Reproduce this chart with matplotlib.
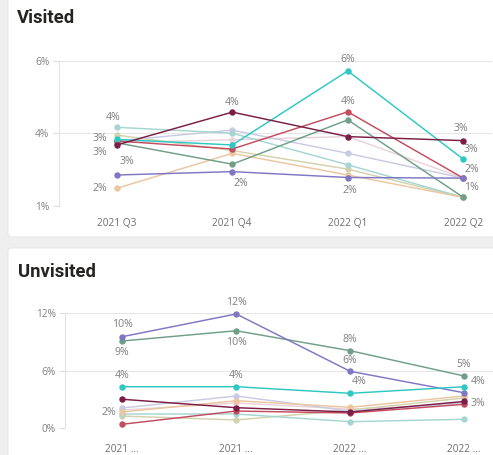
import matplotlib
matplotlib.use("Agg")
import matplotlib.pyplot as plt
from matplotlib.patches import FancyBboxPatch

plt.rcParams['font.family'] = ['Open Sans', 'DejaVu Sans']

# ---------------- data ----------------
quarters_top = ["2021 Q3", "2021 Q4", "2022 Q1", "2022 Q2"]
quarters_bottom = ["2021 ...", "2021 ...", "2022 ...", "2022 ..."]

series_names = ["light pink", "beige", "lavender", "light teal", "tan",
                "sage", "red", "purple", "cyan", "maroon"]
series_colors = ["#ead3da", "#d3d2ad", "#c9cbe2", "#a6d6d2", "#ecc6a0",
                 "#6f9f88", "#c24c60", "#7f76c4", "#2ec8c2", "#7b1d45"]

# Visited (%)
visited_light_pink = [3.20, 3.30, 3.40, 2.06]
visited_beige = [3.45, 2.95, 2.35, 1.44]
visited_lavender = [3.26, 3.61, 2.86, 2.06]
visited_light_teal = [3.70, 3.51, 2.49, 1.44]
visited_tan = [1.73, 2.86, 2.16, 1.44]
visited_sage = [3.20, 2.51, 3.94, 1.44]
visited_red = [3.26, 3.00, 4.20, 2.06]
visited_purple = [2.16, 2.27, 2.08, 2.06]
visited_cyan = [3.31, 3.13, 5.52, 2.67]
visited_maroon = [3.13, 4.19, 3.40, 3.27]

# Unvisited (%)
unvisited_light_pink = [1.90, 2.64, 2.00, 2.54]
unvisited_beige = [1.28, 0.87, 1.90, 3.16]
unvisited_lavender = [2.12, 3.37, 1.80, 2.67]
unvisited_light_teal = [1.49, 1.49, 0.69, 0.94]
unvisited_tan = [1.70, 2.88, 2.19, 3.37]
unvisited_sage = [9.11, 10.18, 8.10, 5.46]
unvisited_red = [0.42, 1.80, 1.60, 2.50]
unvisited_purple = [9.56, 11.93, 5.95, 3.71]
unvisited_cyan = [4.34, 4.34, 3.65, 4.34]
unvisited_maroon = [3.03, 2.15, 1.70, 2.80]

visited = [visited_light_pink, visited_beige, visited_lavender, visited_light_teal,
           visited_tan, visited_sage, visited_red, visited_purple, visited_cyan,
           visited_maroon]
unvisited = [unvisited_light_pink, unvisited_beige, unvisited_lavender,
             unvisited_light_teal, unvisited_tan, unvisited_sage, unvisited_red,
             unvisited_purple, unvisited_cyan, unvisited_maroon]

top_yticks = [1.17, 3.51, 5.85]
top_yticklabels = ["1%", "4%", "6%"]
bottom_yticks = [0, 6, 12]
bottom_yticklabels = ["0%", "6%", "12%"]

# data labels: (series name, quarter index, dx px, dy px)
top_labels = [("light teal", 0, -4, 10), ("beige", 0, -17, -3), ("sage", 0, -17, -10),
              ("maroon", 0, 10, -17), ("tan", 0, -17, 0),
              ("maroon", 1, 0, 10), ("purple", 1, 9, -12),
              ("cyan", 2, 0, 11), ("red", 2, 0, 10), ("purple", 2, 2, -13),
              ("maroon", 3, -2, 12), ("cyan", 3, 8, 10), ("purple", 3, 8, 9),
              ("sage", 3, 8, 10)]
bottom_labels = [("purple", 0, 0, 12), ("sage", 0, 0, -12), ("cyan", 0, 0, 11),
                 ("lavender", 0, -13, -5),
                 ("purple", 1, 0, 11), ("sage", 1, 0, -12), ("cyan", 1, 0, 11),
                 ("sage", 2, 0, 11), ("purple", 2, 0, 11), ("cyan", 2, 9, 12),
                 ("sage", 3, 0, 11), ("cyan", 3, 14, 5), ("lavender", 3, 14, -1)]

# ---------------- figure ----------------
W, H = 493, 455
fig = plt.figure(figsize=(W / 100, H / 100), dpi=100)
fig.patch.set_facecolor("#efefef")


def card(x0, y0, x1, y1):
    p = FancyBboxPatch((x0 / W, 1 - y1 / H), (x1 - x0) / W, (y1 - y0) / H,
                       boxstyle="round,pad=0,rounding_size=0.008",
                       transform=fig.transFigure, facecolor="white",
                       edgecolor="#e4e4e4", linewidth=0.6, zorder=-5)
    fig.patches.append(p)


card(8, -5, 500, 237)
card(8, 248, 500, 462)

title_font = ['Roboto', 'DejaVu Sans']
fig.text(17 / W, 1 - 22.7 / H, "Visited", fontsize=13.3, fontweight="bold",
         family=title_font, color="#252423", ha="left", va="baseline")
fig.text(18 / W, 1 - 276.7 / H, "Unvisited", fontsize=13.3, fontweight="bold",
         family=title_font, color="#252423", ha="left", va="baseline")


def make_axes(rect, data, xlabels, yticks, yticklabels, ylim, labels, xpad):
    ax = fig.add_axes(rect)
    ax.set_facecolor("none")
    x = list(range(len(xlabels)))
    for name, col, vals in zip(series_names, series_colors, data):
        ax.plot(x, vals, color=col, lw=1.05, marker="o", ms=4.6,
                markeredgewidth=0, clip_on=False, zorder=3)
    ax.set_xlim(-0.5, 3.25)
    ax.set_ylim(*ylim)
    ax.set_yticks(yticks)
    ax.set_yticklabels(yticklabels)
    ax.set_xticks(x)
    ax.set_xticklabels(xlabels)
    for s in ["top", "right", "bottom"]:
        ax.spines[s].set_visible(False)
    ax.spines["left"].set_color("#e3e3e3")
    ax.spines["left"].set_linewidth(0.8)
    ax.grid(axis="y", color="#e6e6e6", lw=0.8)
    ax.set_axisbelow(True)
    ax.tick_params(axis="y", length=4, width=0.8, color="#dddddd",
                   labelsize=7.3, labelcolor="#808080", pad=3)
    ax.tick_params(axis="x", length=0, labelsize=7.3, labelcolor="#6e6e6e",
                   pad=xpad)
    for name, qi, dx, dy in labels:
        vals = data[series_names.index(name)]
        v = vals[qi]
        ax.annotate(f"{v:.0f}%", (qi, v), xytext=(dx, dy),
                    textcoords="offset pixels", ha="center", va="center",
                    fontsize=7.6, color="#7f7f7f", annotation_clip=False,
                    zorder=5)
    return ax


top_rect = [58.95 / W, (H - 205.7) / H, (492.2 - 58.95) / W, (205.7 - 60.7) / H]
bot_rect = [65.35 / W, (H - 428.3) / H, (492.5 - 65.35) / W, (428.3 - 313.3) / H]

make_axes(top_rect, visited, quarters_top, top_yticks, top_yticklabels,
          (1.17, 5.85), top_labels, 9)
make_axes(bot_rect, unvisited, quarters_bottom, bottom_yticks, bottom_yticklabels,
          (0, 12), bottom_labels, 11)

fig.savefig("out.png", dpi=100, facecolor=fig.get_facecolor())
